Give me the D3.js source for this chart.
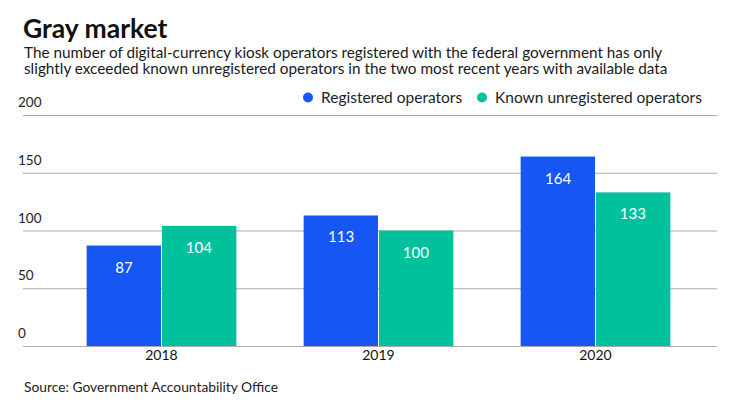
<!DOCTYPE html>
<html>
<head>
<meta charset="utf-8">
<script src="https://cdn.jsdelivr.net/npm/d3@7"></script>
<style>
  body { margin: 0; background: #fff; }
  svg { display: block; font-family: Lato, "Open Sans", sans-serif; }
  .grid line { stroke: #aaaaaa; stroke-width: 1; }
  .grid .domain { display: none; }
</style>
</head>
<body>
<svg id="chart" width="740" height="416"></svg>
<script>
// chart data
const years = ["2018", "2019", "2020"];
const seriesNames = ["Registered operators", "Known unregistered operators"];
const registered = [87, 113, 164];
const unregistered = [104, 100, 133];
const yTicks = [0, 50, 100, 150, 200];
const colors = ["#1656f2", "#00c19c"];

const svg = d3.select("#chart");

// Title and subtitle
svg.append("text")
  .attr("x", 23).attr("y", 38)
  .attr("font-size", 26.5).attr("font-weight", 700)
  .attr("fill", "#111")
  .text("Gray market");

const subLines = [
  "The number of digital-currency kiosk operators registered with the federal government has only",
  "slightly exceeded known unregistered operators in the two most recent years with available data"
];
svg.selectAll(".sub").data(subLines).enter().append("text")
  .attr("class", "sub")
  .attr("x", 24)
  .attr("y", (d, i) => 57.5 + i * 16.5)
  .attr("font-size", 15.3)
  .attr("fill", "#1a1a1a")
  .text(d => d);

// Scales
let y = d3.scaleLinear().domain([0, 200]).range([346, 115]);
let x0 = d3.scaleBand().domain(years).range([53, 704]).paddingInner(0.31).paddingOuter(0.155);
let x1 = d3.scaleBand().domain([0, 1]).range([0, x0.bandwidth()]);

// Grid lines
let yAxis = d3.axisLeft(y).tickValues(yTicks).tickSize(-(717 - 23)).tickFormat("");
svg.append("g")
  .attr("class", "grid")
  .attr("transform", "translate(23,0)")
  .call(yAxis);

// Y tick labels, sitting above their grid line
svg.selectAll(".ylab").data(yTicks).enter().append("text")
  .attr("class", "ylab")
  .attr("x", 18)
  .attr("y", d => y(d) - 8)
  .attr("font-size", 13.5)
  .attr("fill", "#222")
  .text(d => d);

// Bars
let groups = svg.selectAll(".year").data(years).enter().append("g")
  .attr("class", "year")
  .attr("transform", d => `translate(${x0(d)},0)`);

groups.each(function(d, i){
  let g = d3.select(this);
  let vals = [registered[i], unregistered[i]];
  vals.forEach((v, s) => {
    g.append("rect")
      .attr("x", x1(s) + (s === 1 ? 0.5 : 0))
      .attr("y", y(v))
      .attr("width", x1.bandwidth() - 0.5)
      .attr("height", y(0) - y(v))
      .attr("fill", colors[s]);
    g.append("text")
      .attr("x", x1(s) + x1.bandwidth() / 2)
      .attr("y", y(v) + 27)
      .attr("text-anchor", "middle")
      .attr("font-size", 15)
      .attr("fill", "#fff")
      .text(v);
  });
});

// X axis labels
svg.selectAll(".xlab").data(years).enter().append("text")
  .attr("class", "xlab")
  .attr("x", d => x0(d) + x0.bandwidth() / 2)
  .attr("y", 360)
  .attr("text-anchor", "middle")
  .attr("font-size", 14)
  .attr("fill", "#111")
  .text(d => d);

// Legend
let legendX = [308, 482];
seriesNames.forEach((name, i) => {
  svg.append("circle")
    .attr("cx", legendX[i]).attr("cy", 97.5).attr("r", 5)
    .attr("fill", colors[i]);
  svg.append("text")
    .attr("x", legendX[i] + 13).attr("y", 103)
    .attr("font-size", 15.5)
    .attr("fill", "#222")
    .text(name);
});

// Source
svg.append("text")
  .attr("x", 24).attr("y", 392)
  .attr("font-size", 13.8)
  .attr("fill", "#222")
  .text("Source: Government Accountability Office");
</script>
</body>
</html>
